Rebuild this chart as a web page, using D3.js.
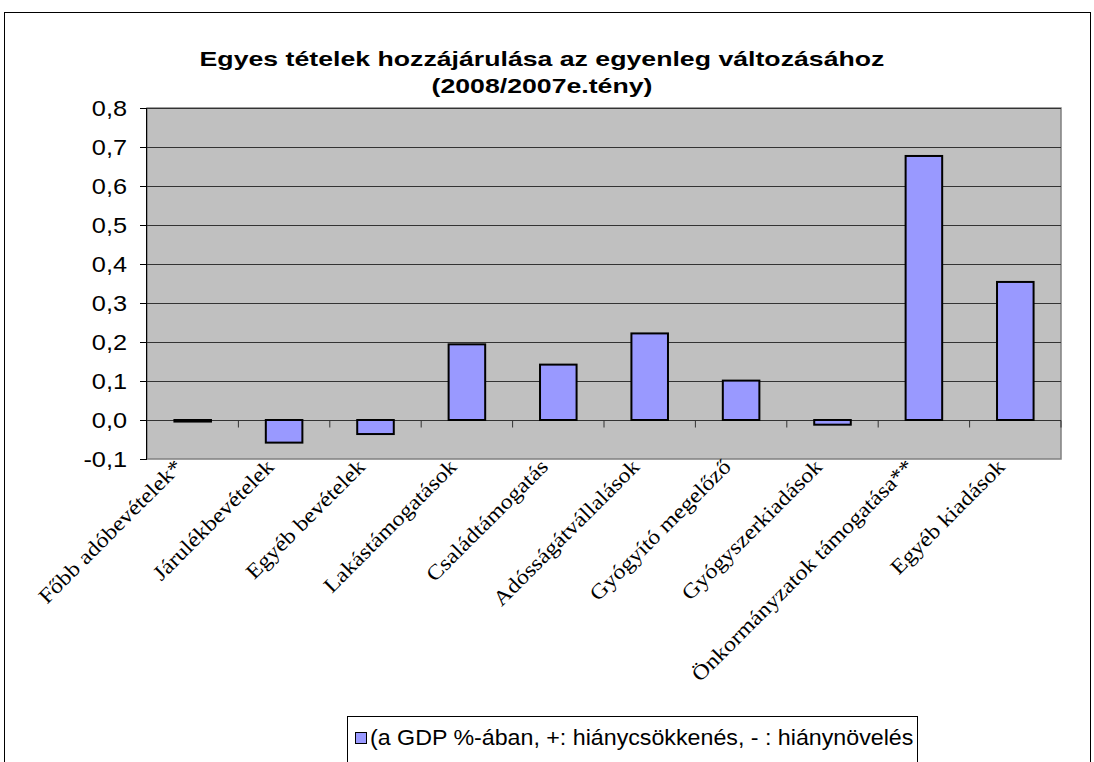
<!DOCTYPE html>
<html>
<head>
<meta charset="utf-8">
<script src="https://cdn.jsdelivr.net/npm/d3@7"></script>
<style>
  body { margin: 0; background: #fff; }
  svg { display: block; }
</style>
</head>
<body>
<div id="chart"></div>
<script>
const categories = [
  "Főbb adóbevételek*", "Járulékbevételek", "Egyéb bevételek", "Lakástámogatások",
  "Családtámogatás", "Adósságátvállalások", "Gyógyító megelőző",
  "Gyógyszerkiadások", "Önkormányzatok támogatása**", "Egyéb kiadások"
]
const values = [-0.004, -0.058, -0.036, 0.194, 0.142, 0.222, 0.101, -0.012, 0.677, 0.354]
const yTicks = [-0.1, 0, 0.1, 0.2, 0.3, 0.4, 0.5, 0.6, 0.7, 0.8]
const titleLines = ["Egyes tételek hozzájárulása az egyenleg változásához", "(2008/2007e.tény)"]
const legendLabel = "(a GDP %-ában, +: hiánycsökkenés, - : hiánynövelés"

const width = 1094, height = 762
const plot = {left: 147, right: 1061, top: 108, bottom: 459}
const sans = "Liberation Sans, Arial, sans-serif"
const serif = "Liberation Serif, Times New Roman, serif"

// widen text the way the old Excel export does
function stretch(sel, factor) {
  sel.each(function () {
    const l = this.getComputedTextLength()
    d3.select(this).attr("textLength", l * factor).attr("lengthAdjust", "spacingAndGlyphs")
  })
}

const svg = d3.select("#chart").append("svg")
  .attr("width", width).attr("height", height)

// outer chart frame
svg.append("rect")
  .attr("x", 4.5).attr("y", 12.5).attr("width", 1086).attr("height", 780)
  .attr("fill", "#fff").attr("stroke", "#000").attr("stroke-width", 1)

const x = d3.scaleBand()
  .domain(categories)
  .range([plot.left, plot.right])
  .paddingInner(0.6).paddingOuter(0.3)

const y = d3.scaleLinear()
  .domain([-0.1, 0.8])
  .range([plot.bottom, plot.top])

// plot area
svg.append("rect")
  .attr("x", plot.left).attr("y", plot.top)
  .attr("width", plot.right - plot.left).attr("height", plot.bottom - plot.top)
  .attr("fill", "#c0c0c0").attr("stroke", "#808080").attr("stroke-width", 1.5)

// gridlines
svg.append("g")
  .selectAll("line")
  .data(yTicks.filter(d => d > 0))
  .join("line")
  .attr("x1", plot.left).attr("x2", plot.right)
  .attr("y1", d => Math.round(y(d)) + 0.5).attr("y2", d => Math.round(y(d)) + 0.5)
  .attr("stroke", "#333").attr("stroke-width", 1)

// y axis
const fmt = d => d3.format(".1f")(d).replace(".", ",").replace("−", "-")
svg.append("g")
  .attr("transform", `translate(${plot.left},0)`)
  .call(d3.axisLeft(y).tickValues(yTicks).tickFormat(fmt).tickSize(7).tickPadding(13))
  .call(g => g.select(".domain").attr("stroke", "#000").attr("d", `M-0.5,${plot.bottom}V${plot.top}`))
  .call(g => g.selectAll(".tick line").attr("stroke", "#000"))
  .call(g => g.selectAll(".tick text")
    .attr("font-family", sans)
    .attr("font-size", 22).attr("fill", "#000")
    .call(stretch, 1.15))

// zero line with category ticks
const zeroY = Math.round(y(0)) + 0.5
svg.append("line")
  .attr("x1", plot.left).attr("x2", plot.right)
  .attr("y1", zeroY).attr("y2", zeroY)
  .attr("stroke", "#333").attr("stroke-width", 1)

const step = (plot.right - plot.left) / categories.length
svg.append("g")
  .selectAll("line")
  .data(d3.range(1, categories.length + 1))
  .join("line")
  .attr("x1", i => plot.left + i * step).attr("x2", i => plot.left + i * step)
  .attr("y1", zeroY).attr("y2", zeroY + 7)
  .attr("stroke", "#333").attr("stroke-width", 1)

// bars
svg.append("g")
  .selectAll("rect")
  .data(categories.map((c, i) => ({c, v: values[i]})))
  .join("rect")
  .attr("x", d => x(d.c))
  .attr("width", x.bandwidth())
  .attr("y", d => y(Math.max(0, d.v)))
  .attr("height", d => Math.abs(y(d.v) - y(0)))
  .attr("fill", "#9999ff")
  .attr("stroke", "#000").attr("stroke-width", 2)

// x labels
svg.append("g")
  .selectAll("text")
  .data(categories)
  .join("text")
  .attr("transform", d => `translate(${x(d) + x.bandwidth() / 2 - 9},${plot.bottom + 9}) rotate(-45)`)
  .attr("text-anchor", "end")
  .attr("font-family", serif)
  .attr("font-size", 21)
  .attr("fill", "#000")
  .text(d => d)
  .call(stretch, 1.14)

// title
svg.append("g")
  .selectAll("text")
  .data(titleLines)
  .join("text")
  .attr("x", 542).attr("y", (d, i) => 66 + i * 27)
  .attr("text-anchor", "middle")
  .attr("font-family", sans)
  .attr("font-weight", "bold").attr("font-size", 21)
  .text(d => d)
  .call(stretch, 1.27)

// legend
const legend = svg.append("g")
legend.append("rect")
  .attr("x", 347.5).attr("y", 716.5).attr("width", 570).attr("height", 60)
  .attr("fill", "#fff").attr("stroke", "#000")
legend.append("rect")
  .attr("x", 355.5).attr("y", 732.5).attr("width", 11).attr("height", 11)
  .attr("fill", "#9999ff").attr("stroke", "#000")
legend.append("text")
  .attr("x", 370).attr("y", 745)
  .attr("font-family", sans)
  .attr("font-size", 22)
  .text(legendLabel)
  .call(stretch, 1.055)
</script>
</body>
</html>
